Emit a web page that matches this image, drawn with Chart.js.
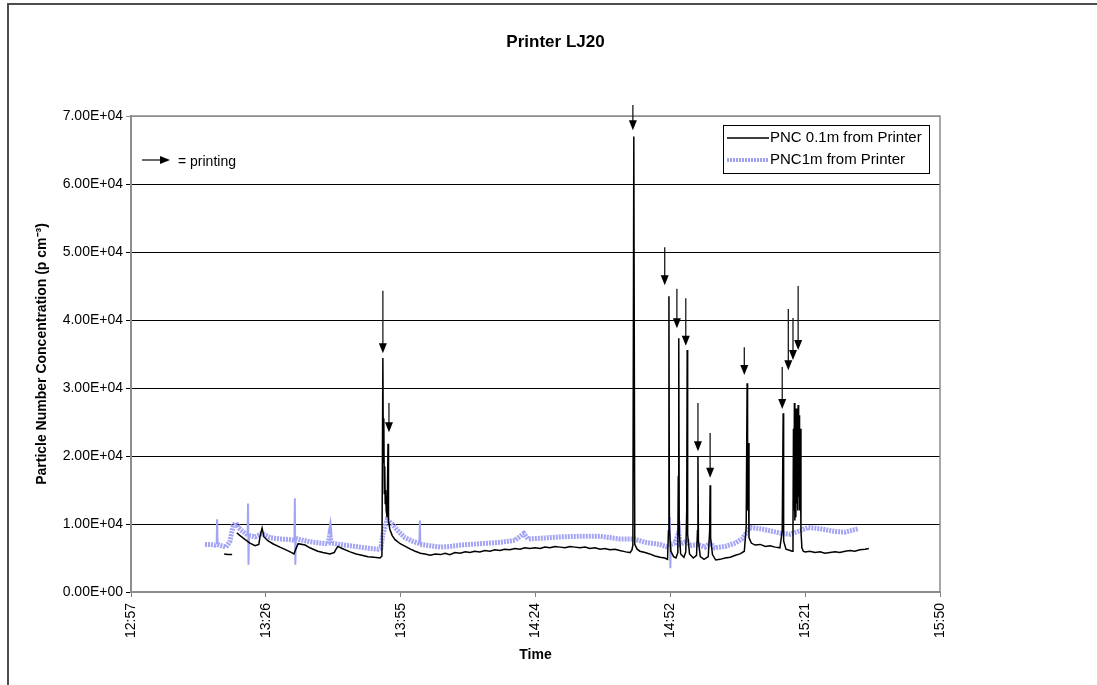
<!DOCTYPE html>
<html>
<head>
<meta charset="utf-8">
<script src="https://cdn.jsdelivr.net/npm/chart.js@4/dist/chart.umd.min.js"></script>
<style>
  body { margin: 0; background: #fff; }
  #wrap { position: relative; width: 1097px; height: 685px; }
  #frame { position: absolute; left: 7px; top: 3px; right: 0; bottom: 0;
           border-top: 2px solid #4d4d4d; border-left: 2px solid #4d4d4d; pointer-events: none; }
</style>
</head>
<body>
<div id="wrap"><canvas id="c" width="1097" height="685"></canvas><div id="frame"></div></div>
<script>
// time in minutes after midnight, concentration in p/cm3
const pnc01Times = [797.5, 798.3, 799.2, 799.6,
  800.2, 800.9, 802.0, 803.0, 804.1, 804.9, 805.2, 805.6, 806.0, 806.9, 807.9, 809.4, 810.7, 811.6, 812.4, 812.8,
  813.3, 814.8, 815.8, 817.5, 818.6, 820.1, 821.0, 821.4, 821.8, 822.7, 824.4, 825.7, 826.9, 828.2, 829.5, 830.8,
  831.2, 831.4, 831.5, 831.6, 831.7, 831.8, 831.9, 832.0, 832.1, 832.3, 832.5, 832.6, 832.9, 833.4, 834.0, 835.1,
  836.2, 837.3, 838.3, 839.4, 840.4, 841.5, 842.6, 843.7, 844.7, 845.7, 846.8, 847.9, 849.0, 850.0, 851.0, 852.1,
  853.2, 854.3, 855.3, 856.4, 857.4, 858.5, 859.6, 860.7, 861.7, 862.8, 863.9, 865.0, 866.0, 867.1, 868.2, 869.2,
  870.3, 871.4, 872.4, 873.5, 874.6, 875.6, 876.7, 877.8, 878.8, 879.9, 881.0, 882.0, 883.3, 884.2, 884.6, 884.8,
  885.0, 885.2, 885.7, 886.3, 887.4, 888.4, 889.5, 890.6, 891.6, 892.2, 892.4, 892.5, 892.6, 892.9, 893.5, 894.0,
  894.4, 894.5, 894.6, 894.7, 895.0, 895.7, 896.1, 896.3, 896.4, 896.5, 896.9, 897.7, 898.4, 898.6, 898.7, 898.8,
  899.2, 900.0, 900.9, 901.2, 901.3, 901.4, 901.8, 902.5, 903.4, 904.5, 905.6, 906.7, 907.7, 908.6, 909.0, 909.2,
  909.3, 909.4, 909.6, 910.1, 910.9, 912.0, 913.1, 914.1, 915.2, 916.2, 916.7, 916.9, 917.0, 917.5, 918.4, 918.8,
  919.0, 919.1, 919.2, 919.3, 919.4, 919.5, 919.6, 919.7, 919.8, 919.9, 920.0, 920.1, 920.2, 920.3, 920.4, 920.5,
  920.7, 920.9, 921.2, 921.6, 922.6, 923.7, 924.8, 925.8, 926.9, 928.0, 929.0, 930.1, 931.2, 932.2, 933.3, 934.4, 935.2];
const pnc01Values = [5600, 5500, 5500, null,
  8700, 8300, 7700, 7200, 6800, 7000, 8300, 9400, 8100, 7500, 7100, 6600, 6200, 5900, 5600, 6300,
  7100, 6900, 6500, 6000, 5800, 5600, 5800, 6300, 6700, 6400, 5900, 5600, 5400, 5200, 5100, 5000,
  5300, 34400, 19000, 25500, 14500, 18500, 13000, 15000, 12000, 11000, 21800, 10500, 9200, 8300, 7700, 7100,
  6700, 6300, 6000, 5700, 5600, 5400, 5600, 5500, 5700, 5500, 5800, 5700, 5900, 5800, 6000, 5900,
  6100, 6000, 6200, 6100, 6300, 6200, 6400, 6300, 6500, 6400, 6500, 6400, 6600, 6500, 6700, 6600,
  6500, 6700, 6600, 6500, 6600, 6400, 6500, 6300, 6400, 6200, 6300, 6100, 5900, 5800, 6200, 6900,
  67000, 7000, 6300, 6000, 5800, 5600, 5300, 5100, 5000, 4800, 9000, 43500, 9500, 6000, 5200, 5000,
  5800, 17000, 37300, 9000, 5600, 5100, 5900, 12000, 35600, 8500, 5600, 5000, 5400, 9000, 19900, 7500,
  5200, 4800, 5200, 9000, 15700, 8000, 5500, 4700, 4800, 5000, 5100, 5400, 5600, 6000, 9500, 30700,
  12000, 21900, 8000, 7200, 6900, 7000, 6700, 6800, 6600, 6500, 9000, 26300, 7500, 6300, 6100, 6000,
  10000, 24000, 12000, 27800, 10500, 26500, 11000, 27000, 13000, 25000, 12000, 27500, 14000, 26000, 12000, 24000,
  9000, 6500, 6000, 5900, 6000, 5800, 5900, 5700, 5800, 5900, 5800, 6000, 6100, 6000, 6200, 6300, 6400];

const pnc1Times = [793.4, 794.5, 795.5, 795.9, 796.0, 796.1, 797.0, 797.9, 798.7, 799.4, 800.0, 800.5, 801.3, 802.2,
  802.5, 802.6, 802.7, 802.8, 804.1, 805.6, 807.3, 809.4, 811.6, 812.5, 812.6, 812.7, 812.8, 813.7, 815.8, 818.0,
  819.7, 820.1, 820.3, 822.2, 824.4, 826.5, 828.6, 830.4, 831.0, 831.4, 832.3, 833.4, 834.6, 836.1, 837.6, 838.9,
  839.2, 839.3, 839.4, 841.5, 843.7, 845.7, 847.9, 850.0, 852.1, 854.3, 856.4, 859.6, 861.5, 862.4, 865.0, 869.2,
  873.5, 877.8, 879.9, 882.0, 885.0, 887.4, 890.6, 892.2, 892.6, 892.7, 892.8, 892.9, 893.8, 894.6, 894.8, 896.4,
  897.0, 898.7, 900.2, 901.3, 902.3, 904.5, 906.7, 908.1, 909.9, 912.0, 914.1, 916.7, 918.4, 920.5, 922.2, 924.8,
  928.0, 930.1, 932.9];
const pnc1Values = [7000, 7000, 6900, 7000, 10700, 7000, 6800, 6600, 7400, 9700, 10200, 9500, 9000, 8500,
  8400, 13000, 4000, 8300, 8100, 8600, 8000, 7800, 7700, 7600, 13800, 4000, 7900, 7700, 7400, 7200,
  7100, 8600, 7200, 7000, 6800, 6600, 6400, 6300, 6500, 8500, 10600, 10000, 9000, 8000, 7500, 7200,
  7200, 10500, 7000, 6800, 6600, 6700, 6900, 7000, 7100, 7200, 7300, 7600, 8600, 7800, 7900, 8100,
  8200, 8200, 8000, 7800, 7800, 7300, 7000, 6600, 6800, 11000, 3500, 7000, 7200, 8800, 7000, 7500,
  6800, 7000, 6600, 7200, 6500, 6700, 7200, 7800, 9500, 9300, 9000, 8600, 8500, 9000, 9500, 9300,
  8900, 8800, 9300];

// printing events: arrow time, arrow tail value, arrow tip value
const arrowTimes = [831.4, 832.7, 884.8, 891.6, 894.2, 896.1, 898.7, 901.3, 908.6, 916.7, 918.0, 919.0, 920.1];
const arrowFrom  = [44300, 27800, 71600, 50700, 44600, 43200, 27800, 23400, 36000, 33100, 41600, 40300, 45000];
const arrowTo    = [35100, 23500, 67900, 45100, 38800, 36200, 20700, 16800, 31900, 26900, 32600, 34100, 35600];

const xTickValues = [777.6, 806.4, 835.2, 864.0, 892.8, 921.6, 950.4];
const yTickValues = [0, 10000, 20000, 30000, 40000, 50000, 60000, 70000];

const seriesNames = ['PNC 0.1m from Printer', 'PNC1m from Printer'];
const blackCol = '#000000';
const blueCol = '#a4a4f4';

Chart.defaults.font.family = '"Liberation Sans", Arial, sans-serif';
Chart.defaults.color = '#000';

function sci(v) {
  let [m, e] = v.toExponential(2).split('e');
  let n = parseInt(e, 10);
  return m + 'E' + (n < 0 ? '-' : '+') + String(Math.abs(n)).padStart(2, '0');
}
function hhmm(t) {
  let h = Math.floor(t / 60);
  let m = Math.floor(t - h * 60 + 1e-6);
  return h + ':' + String(m).padStart(2, '0');
}

function arrow(ctx, x, y1, y2) {
  ctx.beginPath();
  ctx.moveTo(x, y1);
  ctx.lineTo(x, y2 - 8);
  ctx.stroke();
  ctx.beginPath();
  ctx.moveTo(x - 4, y2 - 10);
  ctx.lineTo(x + 4, y2 - 10);
  ctx.lineTo(x, y2);
  ctx.closePath();
  ctx.fill();
}

const extras = {
  id: 'extras',
  afterDatasetsDraw(chart) {
    const {ctx, chartArea: a, scales: {x, y}} = chart;
    ctx.save();
    // plot border top/right
    ctx.strokeStyle = '#8c8c8c';
    ctx.lineWidth = 1.5;
    ctx.beginPath();
    ctx.moveTo(a.left, a.top);
    ctx.lineTo(a.right, a.top);
    ctx.lineTo(a.right, a.bottom);
    ctx.stroke();

    // printing arrows
    ctx.strokeStyle = '#1a1a1a';
    ctx.fillStyle = '#000';
    ctx.lineWidth = 1.3;
    arrowTimes.forEach((t, i) => {
      arrow(ctx, x.getPixelForValue(t), y.getPixelForValue(arrowFrom[i]), y.getPixelForValue(arrowTo[i]));
    });

    // "= printing" key
    let ky = a.top + 44;
    ctx.beginPath();
    ctx.moveTo(a.left + 11, ky);
    ctx.lineTo(a.left + 30, ky);
    ctx.stroke();
    ctx.beginPath();
    ctx.moveTo(a.left + 29, ky - 4);
    ctx.lineTo(a.left + 29, ky + 4);
    ctx.lineTo(a.left + 39, ky);
    ctx.closePath();
    ctx.fill();
    ctx.font = '14px "Liberation Sans", Arial, sans-serif';
    ctx.textBaseline = 'middle';
    ctx.textAlign = 'left';
    ctx.fillText('= printing', a.left + 47, ky + 2);

    // legend box
    let lx = a.right - 217, ly = a.top + 9, lw = 206, lh = 48;
    ctx.fillStyle = '#fff';
    ctx.fillRect(lx, ly, lw, lh);
    ctx.strokeStyle = '#000';
    ctx.lineWidth = 1;
    ctx.strokeRect(lx + 0.5, ly + 0.5, lw, lh);
    ctx.font = '15px "Liberation Sans", Arial, sans-serif';
    ctx.fillStyle = '#000';
    ctx.lineWidth = 1.5;
    ctx.beginPath();
    ctx.moveTo(lx + 4, ly + 13);
    ctx.lineTo(lx + 46, ly + 13);
    ctx.stroke();
    ctx.fillText(seriesNames[0], lx + 47, ly + 13);
    ctx.strokeStyle = blueCol;
    ctx.lineWidth = 4;
    ctx.setLineDash([2, 1]);
    ctx.beginPath();
    ctx.moveTo(lx + 4, ly + 35);
    ctx.lineTo(lx + 46, ly + 35);
    ctx.stroke();
    ctx.setLineDash([]);
    ctx.fillText(seriesNames[1], lx + 47, ly + 35);

    // chart title
    ctx.font = 'bold 17px "Liberation Sans", Arial, sans-serif';
    ctx.textAlign = 'center';
    ctx.fillText('Printer LJ20', chart.width / 2 + 7, 42);
    ctx.restore();
  }
};

const bgPlugin = {
  id: 'bg',
  beforeDraw(chart) {
    const ctx = chart.ctx;
    ctx.save();
    ctx.fillStyle = '#fff';
    ctx.fillRect(0, 0, chart.width, chart.height);
    ctx.restore();
  }
};

// steep jumps in the 1 m series are drawn thin, the rest as a thick hatched band
const steep = (c) => Math.abs(c.p1.parsed.y - c.p0.parsed.y) > 2500;

new Chart(document.getElementById('c'), {
  type: 'line',
  data: {
    datasets: [
      {
        label: seriesNames[0],
        data: pnc01Times.map((t, i) => ({x: t, y: pnc01Values[i]})),
        borderColor: blackCol,
        borderWidth: 1.5,
        pointRadius: 0,
        tension: 0,
        spanGaps: false,
        order: 0
      },
      {
        label: seriesNames[1],
        data: pnc1Times.map((t, i) => ({x: t, y: pnc1Values[i]})),
        borderColor: blueCol,
        borderWidth: 5,
        borderDash: [2, 1],
        pointRadius: 0,
        tension: 0,
        order: 1,
        segment: {
          borderWidth: (c) => steep(c) ? 2 : 5,
          borderDash: (c) => steep(c) ? [] : [2, 1]
        }
      }
    ]
  },
  options: {
    responsive: false,
    animation: false,
    devicePixelRatio: 1,
    layout: { padding: { left: 30, right: 157, top: 116, bottom: 17 } },
    plugins: {
      legend: { display: false },
      tooltip: { enabled: false }
    },
    scales: {
      x: {
        type: 'linear',
        min: xTickValues[0],
        max: xTickValues[xTickValues.length - 1],
        afterBuildTicks: (s) => { s.ticks = xTickValues.map(v => ({value: v})); },
        afterFit: (s) => { s.height = 76; },
        ticks: {
          callback: (v) => hhmm(v),
          minRotation: 90,
          maxRotation: 90,
          padding: 6,
          font: { size: 14 }
        },
        grid: { drawOnChartArea: false, tickLength: 5, color: '#808080' },
        border: { color: '#8c8c8c', width: 2 },
        title: { display: true, text: 'Time', font: { size: 14, weight: 'bold' }, padding: { top: 4, bottom: 4 } }
      },
      y: {
        min: 0,
        max: 70000,
        afterBuildTicks: (s) => { s.ticks = yTickValues.map(v => ({value: v})); },
        afterFit: (s) => { s.width = 101; },
        ticks: {
          callback: (v) => sci(v),
          padding: 3,
          font: { size: 14 }
        },
        grid: {
          tickLength: 5,
          color: (c) => c.tick && c.tick.value === 70000 ? '#8c8c8c' : '#000',
          lineWidth: 1
        },
        border: { color: '#8c8c8c', width: 2 },
        title: {
          display: true,
          text: 'Particle Number Concentration (p cm\u207B\u00B3)',
          font: { size: 14, weight: 'bold' },
          padding: { top: 4, bottom: 4 }
        }
      }
    }
  },
  plugins: [bgPlugin, extras]
});
</script>
</body>
</html>
